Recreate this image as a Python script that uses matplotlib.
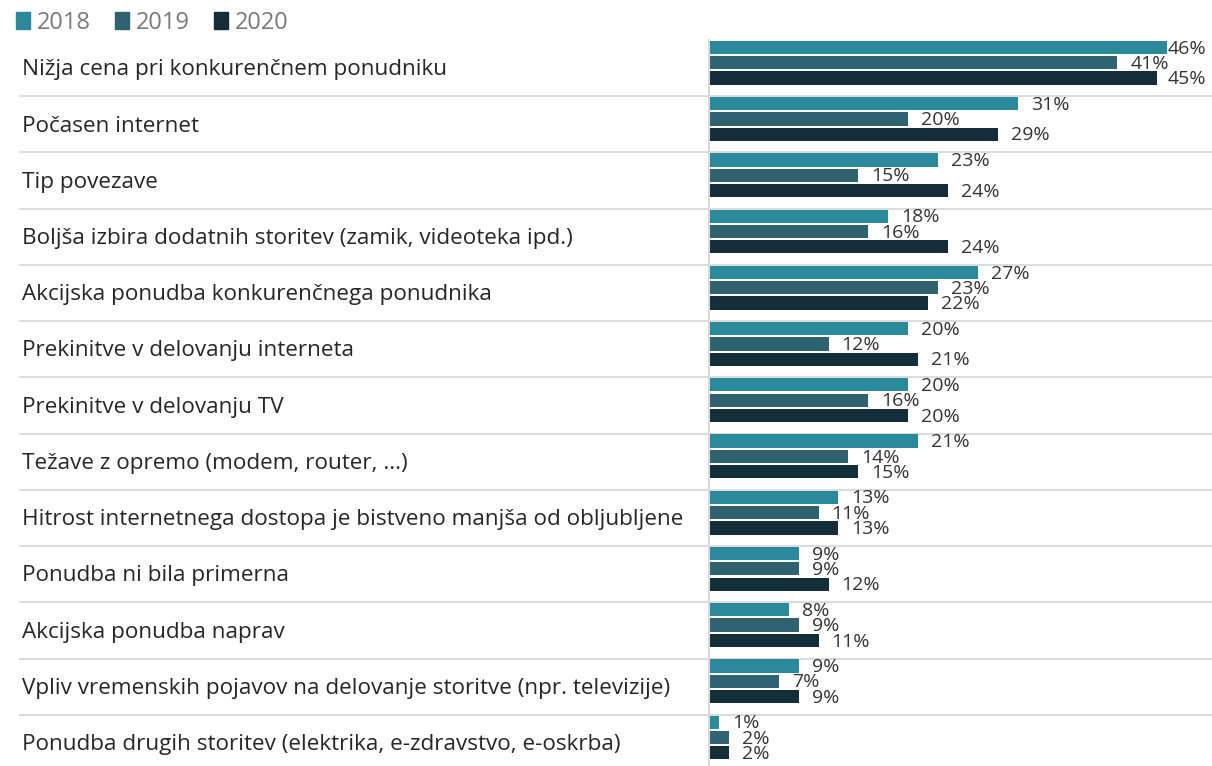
import matplotlib.pyplot as plt
import matplotlib.transforms as mtransforms
from matplotlib.patches import Patch

# Podatki
categories = [
    "Nižja cena pri konkurenčnem ponudniku",
    "Počasen internet",
    "Tip povezave",
    "Boljša izbira dodatnih storitev (zamik, videoteka ipd.)",
    "Akcijska ponudba konkurenčnega ponudnika",
    "Prekinitve v delovanju interneta",
    "Prekinitve v delovanju TV",
    "Težave z opremo (modem, router, ...)",
    "Hitrost internetnega dostopa je bistveno manjša od obljubljene",
    "Ponudba ni bila primerna",
    "Akcijska ponudba naprav",
    "Vpliv vremenskih pojavov na delovanje storitve (npr. televizije)",
    "Ponudba drugih storitev (elektrika, e-zdravstvo, e-oskrba)",
]
years = ["2018", "2019", "2020"]
v2018 = [46, 31, 23, 18, 27, 20, 20, 21, 13, 9, 8, 9, 1]
v2019 = [41, 20, 15, 16, 23, 12, 16, 14, 11, 9, 9, 7, 2]
v2020 = [45, 29, 24, 24, 22, 21, 20, 15, 13, 12, 11, 9, 2]
series = [v2018, v2019, v2020]
colors = ["#2a8a9b", "#2f6371", "#142e39"]

plt.rcParams['font.family'] = ['Open Sans', 'DejaVu Sans']

W, H = 1212, 766
fig = plt.figure(figsize=(W / 100, H / 100), dpi=100)
ax_left, ax_top, ax_bottom = 709, 40, 771
ax = fig.add_axes([ax_left / W, 1 - ax_bottom / H, 1 - ax_left / W, (ax_bottom - ax_top) / H])

n = len(categories)
xmax = 50.5
ax.set_xlim(0, xmax)
ax.set_ylim(n, 0)

offsets = [0.133, 0.405, 0.677]
bar_h = 0.235
for k, vals in enumerate(series):
    ys = [i + offsets[k] for i in range(n)]
    ax.barh(ys, vals, height=bar_h, color=colors[k], edgecolor='none')
    for y, v in zip(ys, vals):
        x = min(v + 1.3, 46.0)
        ax.text(x, y + 0.02, f"{v}%", va='center', ha='left', fontsize=14,
                color='#333333', clip_on=False)

# Ločilne črte med kategorijami
for i in range(1, n):
    ax.axhline(i, xmin=(20 - ax_left) / (W - ax_left), xmax=1, color='#d9d9d9',
               lw=1.3, clip_on=False, zorder=0)

# Oznake kategorij
trans = mtransforms.blended_transform_factory(fig.transFigure, ax.transData)
for i, cat in enumerate(categories):
    ax.text(22 / W, i + 0.53, cat, transform=trans, ha='left', va='center',
            fontsize=16.2, color='#262626')

ax.set_xticks([])
ax.set_yticks([])
for s in ['top', 'right', 'bottom']:
    ax.spines[s].set_visible(False)
ax.spines['left'].set_color('#d9d9d9')
ax.spines['left'].set_linewidth(1.5)

handles = [Patch(color=c) for c in colors]
leg = fig.legend(handles, years, loc='upper left', bbox_to_anchor=(16 / W, 1 - 11 / H), ncol=3,
                 frameon=False, fontsize=17, handlelength=0.6, handleheight=0.7,
                 handletextpad=0.3, columnspacing=1.0, borderpad=0, borderaxespad=0)
for t in leg.get_texts():
    t.set_color('#7a7a7a')

fig.savefig('out.png', dpi=100)
